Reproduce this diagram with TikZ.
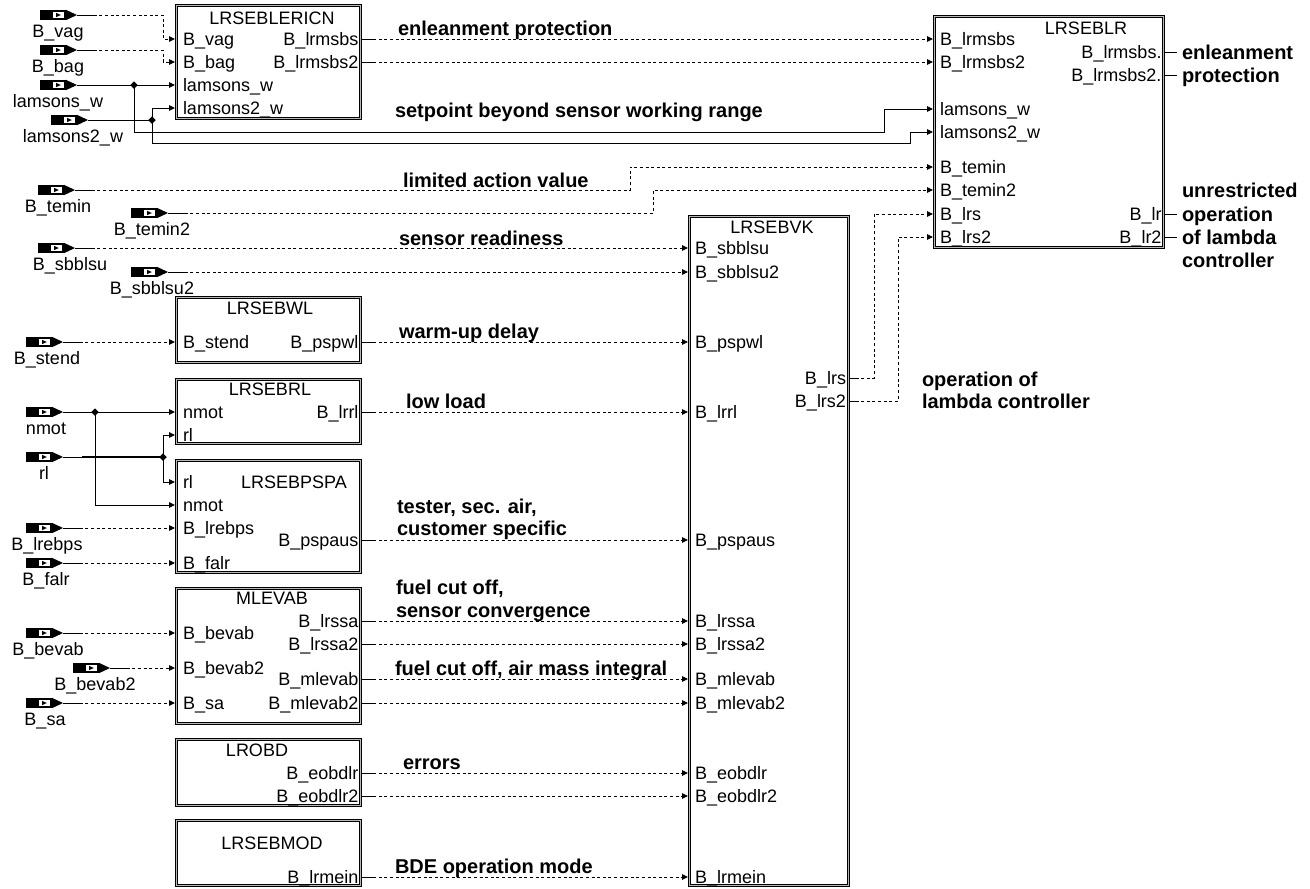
\documentclass[tikz,border=0pt]{standalone}
\usepackage{fontspec}
\setmainfont{Liberation Sans}
\usetikzlibrary{arrows.meta,shapes.geometric}
\tikzset{
  inport/.pic={
    \fill (-37,-5.2) rectangle (-11,5.2);
    \fill (-11.1,-5.2) -- (0,0) -- (-11.1,5.2) -- cycle;
    \fill[white] (-24,-3.4) rectangle (-13.5,3.4);
    \fill (-20.8,-2.1) -- (-16.2,0) -- (-20.8,2.1) -- cycle;
  }
}
\begin{document}
\begin{tikzpicture}[x=1pt,y=-1pt,
  every node/.style={inner sep=0pt, outer sep=0pt},
  rg/.style={font=\fontsize{18}{20}\selectfont, text height=12.9pt, text depth=0pt},
  bd/.style={font=\bfseries\fontsize{20}{23}\selectfont, text height=14.3pt, text depth=0pt, anchor=west},
  blk/.style={draw=black, line width=0.8pt, double=gray!55, double distance=1.7pt, anchor=north west, minimum width=183.8pt},
  w/.style={line width=0.9pt},
  dw/.style={line width=0.9pt, dash pattern=on 3pt off 2.6pt},
  arr/.style={-{Triangle[length=6pt,width=5.5pt]}},
  jdot/.style={diamond, fill=black, minimum size=7.5pt, inner sep=0pt},
]
\useasboundingbox (0,0) rectangle (1310,889);

% ---------------- boxes ----------------
\node[blk, minimum height=112.8pt] (ericn) at (176.6,5.6) {};
\node[blk, minimum height=64.8pt] (wl) at (176.6,297.6) {};
\node[blk, minimum height=63.8pt] (rlb) at (176.6,379.6) {};
\node[blk, minimum height=111.8pt] (pspa) at (176.6,460.6) {};
\node[blk, minimum height=134.8pt] (mlev) at (176.6,588.6) {};
\node[blk, minimum height=65.8pt] (lrobd) at (176.6,739.6) {};
\node[blk, minimum height=64.8pt] (lrmod) at (176.6,820.6) {};
\node[blk, minimum width=158.8pt, minimum height=668.8pt] (vk) at (689.6,216.6) {};
\node[blk, minimum width=228.8pt, minimum height=230.8pt] (lr) at (934.6,16.6) {};

% ---------------- titles ----------------
\node[rg] (t-ericn) at (272,18) {LRSEBLERICN};
\node[rg] (t-wl) at (270,308) {LRSEBWL};
\node[rg] (t-rl) at (270,389) {LRSEBRL};
\node[rg] (t-pspa) at (294,482) {LRSEBPSPA};
\node[rg] (t-mlev) at (272,598) {MLEVAB};
\node[rg] (t-lrobd) at (257,750) {LROBD};
\node[rg] (t-lrmod) at (272,843) {LRSEBMOD};
\node[rg] (t-vk) at (772,227) {LRSEBVK};
\node[rg] (t-lr) at (1086,28) {LRSEBLR};

% ---------------- port labels ----------------
\foreach \t/\y [count=\i] in {B\_vag/39, B\_bag/62, lamsons\_w/85, lamsons2\_w/108,
   B\_stend/342, nmot/412, rl/435, rl/482, nmot/505, B\_lrebps/528, B\_falr/563,
   B\_bevab/633, B\_bevab2/668, B\_sa/703}
  \node[rg, anchor=west] (pl\i) at (183,\y) {\t};
\foreach \t/\y [count=\i] in {B\_lrmsbs/39, B\_lrmsbs2/62, B\_pspwl/342, B\_lrrl/412,
   B\_pspaus/540, B\_lrssa/621, B\_lrssa2/644, B\_mlevab/679, B\_mlevab2/703,
   B\_eobdlr/773, B\_eobdlr2/796, B\_lrmein/877}
  \node[rg, anchor=east] (pr\i) at (358.5,\y) {\t};
\foreach \t/\y [count=\i] in {B\_sbblsu/248, B\_sbblsu2/272, B\_pspwl/342, B\_lrrl/412,
   B\_pspaus/540, B\_lrssa/621, B\_lrssa2/644, B\_mlevab/679, B\_mlevab2/703,
   B\_eobdlr/773, B\_eobdlr2/796, B\_lrmein/877}
  \node[rg, anchor=west] (vl\i) at (695,\y) {\t};
\node[rg, anchor=east] (vr1) at (846,378) {B\_lrs};
\node[rg, anchor=east] (vr2) at (846,401) {B\_lrs2};
\foreach \t/\y [count=\i] in {B\_lrmsbs/39, B\_lrmsbs2/62, lamsons\_w/109, lamsons2\_w/132,
   B\_temin/167, B\_temin2/190, B\_lrs/214, B\_lrs2/237}
  \node[rg, anchor=west] (ll\i) at (940,\y) {\t};
\foreach \t/\y [count=\i] in {B\_lrmsbs./52, B\_lrmsbs2./75, B\_lr/214, B\_lr2/237}
  \node[rg, anchor=east] (lrr\i) at (1161.5,\y) {\t};

% ---------------- input symbols ----------------
\foreach \n/\x/\y in {vag/77/15, bag/77/50, lam/77/85, lamb/88/120, temin/75/190,
   temintwo/168/213, sbb/75/248, sbbtwo/168/272, stend/63/342, nmot/63/412, rl/63/457,
   lrebps/63/528, falr/63/563, bevab/63/633, bevabtwo/110/668, sa/63/703}
  {\coordinate (in-\n) at (\x,\y); \pic at (in-\n) {inport};}
\foreach \t/\x/\y [count=\i] in {B\_vag/58/31, B\_bag/58/66, lamsons\_w/58/101,
   lamsons2\_w/73/136, B\_temin/58/206, B\_temin2/152/229, B\_sbblsu/70/264,
   B\_sbblsu2/152/288, B\_stend/47/358, nmot/46/428, rl/44/473, B\_lrebps/47/544,
   B\_falr/46/579, B\_bevab/48/649, B\_bevab2/95/684, B\_sa/45/719}
  \node[rg] (il\i) at (\x,\y) {\t};

% ---------------- port coordinates ----------------
\coordinate (e-vag) at (175,39);  \coordinate (e-bag) at (175,62);
\coordinate (e-lam) at (175,85);  \coordinate (e-lamb) at (175,108);
\coordinate (e-ms) at (362,39);   \coordinate (e-ms2) at (362,62);
\coordinate (w-stend) at (175,342); \coordinate (w-pspwl) at (362,342);
\coordinate (r-nmot) at (175,412); \coordinate (r-rl) at (175,435); \coordinate (r-lrrl) at (362,412);
\coordinate (p-rl) at (175,482); \coordinate (p-nmot) at (175,505);
\coordinate (p-lrebps) at (175,528); \coordinate (p-falr) at (175,563); \coordinate (p-pspaus) at (362,540);
\coordinate (m-bevab) at (175,633); \coordinate (m-bevab2) at (175,668); \coordinate (m-sa) at (175,703);
\coordinate (m-lrssa) at (362,621); \coordinate (m-lrssa2) at (362,644);
\coordinate (m-mlevab) at (362,679); \coordinate (m-mlevab2) at (362,703);
\coordinate (o-eobdlr) at (362,773); \coordinate (o-eobdlr2) at (362,796);
\coordinate (d-lrmein) at (362,877);
\coordinate (v-sbb) at (688,248); \coordinate (v-sbb2) at (688,272);
\coordinate (v-pspwl) at (688,342); \coordinate (v-lrrl) at (688,412);
\coordinate (v-pspaus) at (688,540); \coordinate (v-lrssa) at (688,621);
\coordinate (v-lrssa2) at (688,644); \coordinate (v-mlevab) at (688,679);
\coordinate (v-mlevab2) at (688,703); \coordinate (v-eobdlr) at (688,773);
\coordinate (v-eobdlr2) at (688,796); \coordinate (v-lrmein) at (688,877);
\coordinate (v-lrs) at (850,378); \coordinate (v-lrs2) at (850,401);
\coordinate (b-ms) at (933,39); \coordinate (b-ms2) at (933,62);
\coordinate (b-lam) at (933,109); \coordinate (b-lamb) at (933,132);
\coordinate (b-temin) at (933,167); \coordinate (b-temin2) at (933,190);
\coordinate (b-lrs) at (933,214); \coordinate (b-lrs2) at (933,237);
\coordinate (b-o1) at (1165,52); \coordinate (b-o2) at (1165,75);
\coordinate (b-lr) at (1165,214); \coordinate (b-lr2) at (1165,237);
\coordinate (ro1) at (1177,52); \coordinate (ro2) at (1177,75);
\coordinate (ro3) at (1177,214); \coordinate (ro4) at (1177,237);
% junctions and bends
\coordinate (jl) at (134,85); \coordinate (jl2) at (152,120);
\coordinate (jn) at (95,412); \coordinate (jr) at (163,457);
\coordinate (ka) at (884,132); \coordinate (kb) at (910,143);
\coordinate (kt1) at (630,190); \coordinate (kt2) at (653,213);
\coordinate (kl1) at (874,378); \coordinate (kl2) at (898,401);

% ---------------- connectors ----------------
\draw[dw,arr] (in-vag) -| ([xshift=-12pt]e-vag) -- (e-vag);
\draw[dw,arr] (in-bag) -| ([xshift=-12pt]e-bag) -- (e-bag);
\draw[w,arr] (in-lam) -- (e-lam);
\draw[w] (in-lamb) -- (jl2);
\draw[w,arr] (jl2) |- (e-lamb);
\draw[w,arr] (jl) |- (ka) |- (b-lam);
\draw[w,arr] (jl2) |- (kb) |- (b-lamb);
\draw[dw,arr] (e-ms) -- (b-ms);
\draw[dw,arr] (e-ms2) -- (b-ms2);
\draw[dw,arr] (in-temin) -- (kt1) |- (b-temin);
\draw[dw,arr] (in-temintwo) -- (kt2) |- (b-temin2);
\draw[dw,arr] (in-sbb) -- (v-sbb);
\draw[dw,arr] (in-sbbtwo) -- (v-sbb2);
\draw[dw,arr] (in-stend) -- (w-stend);
\draw[dw,arr] (w-pspwl) -- (v-pspwl);
\draw[w,arr] (in-nmot) -- (r-nmot);
\draw[w,arr] (jn) |- (p-nmot);
\draw[w] (in-rl) -- (jr);
\draw[w,line width=1.8pt] ([xshift=19pt]in-rl) -- (jr);
\draw[w,arr] (jr) |- (r-rl);
\draw[w,arr] (jr) |- (p-rl);
\draw[dw,arr] (r-lrrl) -- (v-lrrl);
\draw[dw,arr] (in-lrebps) -- (p-lrebps);
\draw[dw,arr] (in-falr) -- (p-falr);
\draw[dw,arr] (p-pspaus) -- (v-pspaus);
\draw[dw,arr] (in-bevab) -- (m-bevab);
\draw[dw,arr] (in-bevabtwo) -- (m-bevab2);
\draw[dw,arr] (in-sa) -- (m-sa);
\draw[dw,arr] (m-lrssa) -- (v-lrssa);
\draw[dw,arr] (m-lrssa2) -- (v-lrssa2);
\draw[dw,arr] (m-mlevab) -- (v-mlevab);
\draw[dw,arr] (m-mlevab2) -- (v-mlevab2);
\draw[dw,arr] (o-eobdlr) -- (v-eobdlr);
\draw[dw,arr] (o-eobdlr2) -- (v-eobdlr2);
\draw[dw,arr] (d-lrmein) -- (v-lrmein);
\draw[dw,arr] (v-lrs) -- (kl1) |- (b-lrs);
\draw[dw,arr] (v-lrs2) -- (kl2) |- (b-lrs2);
\draw[w] (b-o1) -- (ro1);
\draw[w] (b-o2) -- (ro2);
\draw[w] (b-lr) -- (ro3);
\draw[w] (b-lr2) -- (ro4);
% solid stubs at sources
\foreach \c in {in-vag,in-bag,in-temin,in-temintwo,in-sbb,in-sbbtwo,in-stend,
   in-lrebps,in-falr,in-bevab,in-bevabtwo,in-sa}
  \draw[w] (\c) -- ++(18,0);
\foreach \c in {e-ms,e-ms2,w-pspwl,r-lrrl,p-pspaus,m-lrssa,m-lrssa2,m-mlevab,
   m-mlevab2,o-eobdlr,o-eobdlr2,d-lrmein}
  \draw[w] (\c) -- ++(14,0);
\draw[w] (v-lrs) -- ++(8,0);
\draw[w] (v-lrs2) -- ++(8,0);

% junction dots
\node[jdot] (d1) at (jl) {};
\node[jdot] (d2) at (jl2) {};
\node[jdot] (d3) at (jn) {};
\node[jdot] (d4) at (jr) {};

% ---------------- bold signal labels ----------------
\node[bd] (s1) at (398,28) {enleanment protection};
\node[bd] (s2) at (395,110) {setpoint beyond sensor working range};
\node[bd] (s3) at (403,180) {limited action value};
\node[bd] (s4) at (399,238) {sensor readiness};
\node[bd] (s5) at (399,331) {warm-up delay};
\node[bd] (s6) at (406,401) {low load};
\node[bd] (s7a) at (397,506) {tester, sec. air,};
\node[bd] (s7b) at (397,528) {customer specific};
\node[bd] (s8a) at (396,587) {fuel cut off,};
\node[bd] (s8b) at (396,610) {sensor convergence};
\node[bd] (s9) at (395,668) {fuel cut off, air mass integral};
\node[bd] (s10) at (403,762) {errors};
\node[bd] (s11) at (395,866) {BDE operation mode};
\node[bd] (s12a) at (922,379) {operation of};
\node[bd] (s12b) at (922,401) {lambda controller};
\node[bd] (s13a) at (1182,52) {enleanment};
\node[bd] (s13b) at (1182,75) {protection};
\node[bd] (s14a) at (1182,190) {unrestricted};
\node[bd] (s14b) at (1182,214) {operation};
\node[bd] (s14c) at (1182,237) {of lambda};
\node[bd] (s14d) at (1182,260) {controller};
\end{tikzpicture}
\end{document}
